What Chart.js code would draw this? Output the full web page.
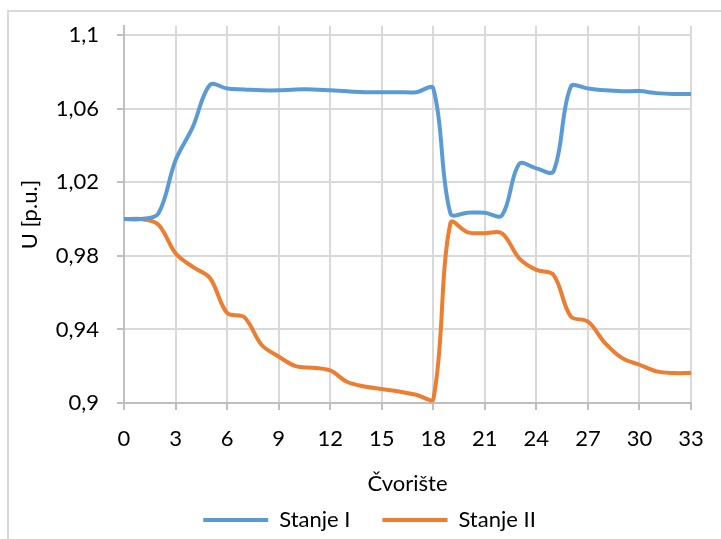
<!DOCTYPE html>
<html>
<head>
<meta charset="utf-8">
<script src="https://cdn.jsdelivr.net/npm/chart.js@4"></script>
<style>
  html, body { margin: 0; padding: 0; background: #fff; }
  #wrap { position: relative; width: 721px; height: 539px; overflow: hidden; }
  #frame { position: absolute; left: 7px; top: 10px; width: 800px; height: 600px;
           border-left: 2px solid #d9d9d9; border-top: 2px solid #d9d9d9; }
  canvas { position: absolute; left: 0; top: 0; }
</style>
</head>
<body>
<div id="wrap">
  <div id="frame"></div>
  <canvas id="chart" width="721" height="539"></canvas>
</div>
<script>
const nodes = [0, 1, 2, 3, 4, 5, 6, 7, 8, 9, 10, 11, 12, 13, 14, 15, 16,
               17, 18, 19, 20, 21, 22, 23, 24, 25, 26, 27, 28, 29, 30, 31, 32, 33];
const stanjeI = [1.000, 1.000, 1.003, 1.032, 1.050, 1.073, 1.071, 1.0705, 1.070, 1.070,
                 1.0705, 1.0705, 1.070, 1.0695, 1.069, 1.069, 1.069, 1.069, 1.071,
                 1.003, 1.0035, 1.0035, 1.002, 1.030, 1.0276, 1.026, 1.072, 1.071,
                 1.070, 1.0695, 1.0696, 1.0685, 1.068, 1.068];
const stanjeII = [1.000, 1.000, 0.997, 0.9814, 0.974, 0.968, 0.949, 0.9467, 0.9317, 0.9253,
                  0.920, 0.9192, 0.9177, 0.9114, 0.909, 0.9076, 0.9063, 0.9045, 0.902,
                  0.998, 0.9928, 0.9923, 0.9923, 0.9787, 0.9724, 0.9697, 0.9471, 0.9443,
                  0.9326, 0.9244, 0.9208, 0.9172, 0.9163, 0.9163];
const yTicks = [0.9, 0.94, 0.98, 1.02, 1.06, 1.1];

const font = { family: 'Lato, "Open Sans", sans-serif', size: 22 };

function pts(ys) {
    return nodes.map((x, i) => ({ x: x, y: ys[i] }));
}

// legend padding doubles as the gap between items, so fix its height and nudge it
const legendFix = {
    id: 'legendFix',
    beforeLayout(chart) {
        const lg = chart.legend;
        if (lg && !lg._fixed) {
            const fit = lg.fit.bind(lg);
            lg.fit = function () { fit(); this.height = 41; };
            lg._fixed = true;
        }
    },
    afterLayout(chart) {
        const lg = chart.legend;
        lg.left += 24; lg.right += 24;
        lg.top -= 21; lg.bottom = chart.height;
    }
};

new Chart(document.getElementById('chart'), {
    type: 'line',
    data: {
        datasets: [
            {
                label: 'Stanje I',
                data: pts(stanjeI),
                borderColor: '#5b9bd5',
                backgroundColor: '#5b9bd5',
                borderWidth: 4,
                pointRadius: 0,
                tension: 0.35,
                borderCapStyle: 'round'
            },
            {
                label: 'Stanje II',
                data: pts(stanjeII),
                borderColor: '#ed7d31',
                backgroundColor: '#ed7d31',
                borderWidth: 4,
                pointRadius: 0,
                tension: 0.35,
                borderCapStyle: 'round'
            }
        ]
    },
    plugins: [legendFix],
    options: {
        responsive: false,
        animation: false,
        events: [],
        layout: { padding: { left: 0, right: 30, top: 26, bottom: 0 } },
        plugins: {
            tooltip: { enabled: false },
            legend: {
                position: 'bottom',
                labels: {
                    color: '#000',
                    font: font,
                    usePointStyle: true,
                    pointStyle: 'line',
                    pointStyleWidth: 65,
                    padding: 32
                }
            }
        },
        scales: {
            x: {
                type: 'linear',
                min: 0,
                max: 33,
                afterBuildTicks: s => { s.ticks = nodes.filter(v => v % 3 === 0).map(v => ({ value: v })); },
                afterFit: s => { s.height = 95; },
                grid: { color: '#d9d9d9', lineWidth: 2, tickLength: 7, tickColor: '#bfbfbf' },
                border: { color: '#bfbfbf', width: 2 },
                ticks: { color: '#000', font: font, padding: 16, maxRotation: 0 },
                title: { display: true, text: 'Čvorište', color: '#000', font: font, padding: { top: 0, bottom: 1 } }
            },
            y: {
                min: 0.9,
                max: 1.105,
                afterBuildTicks: s => { s.ticks = yTicks.map(v => ({ value: v })); },
                afterFit: s => { s.width = 124; s.paddingTop = 0; s.paddingBottom = 0; },
                grid: { color: '#d9d9d9', lineWidth: 2, tickLength: 7, tickColor: '#bfbfbf' },
                border: { color: '#bfbfbf', width: 2 },
                ticks: {
                    color: '#000',
                    font: font,
                    padding: 18,
                    callback: v => String(parseFloat(v.toFixed(2))).replace('.', ',')
                },
                title: { display: true, text: 'U [p.u.]', color: '#000', font: font, padding: { top: 17, bottom: 0 } }
            }
        }
    }
});
</script>
</body>
</html>
